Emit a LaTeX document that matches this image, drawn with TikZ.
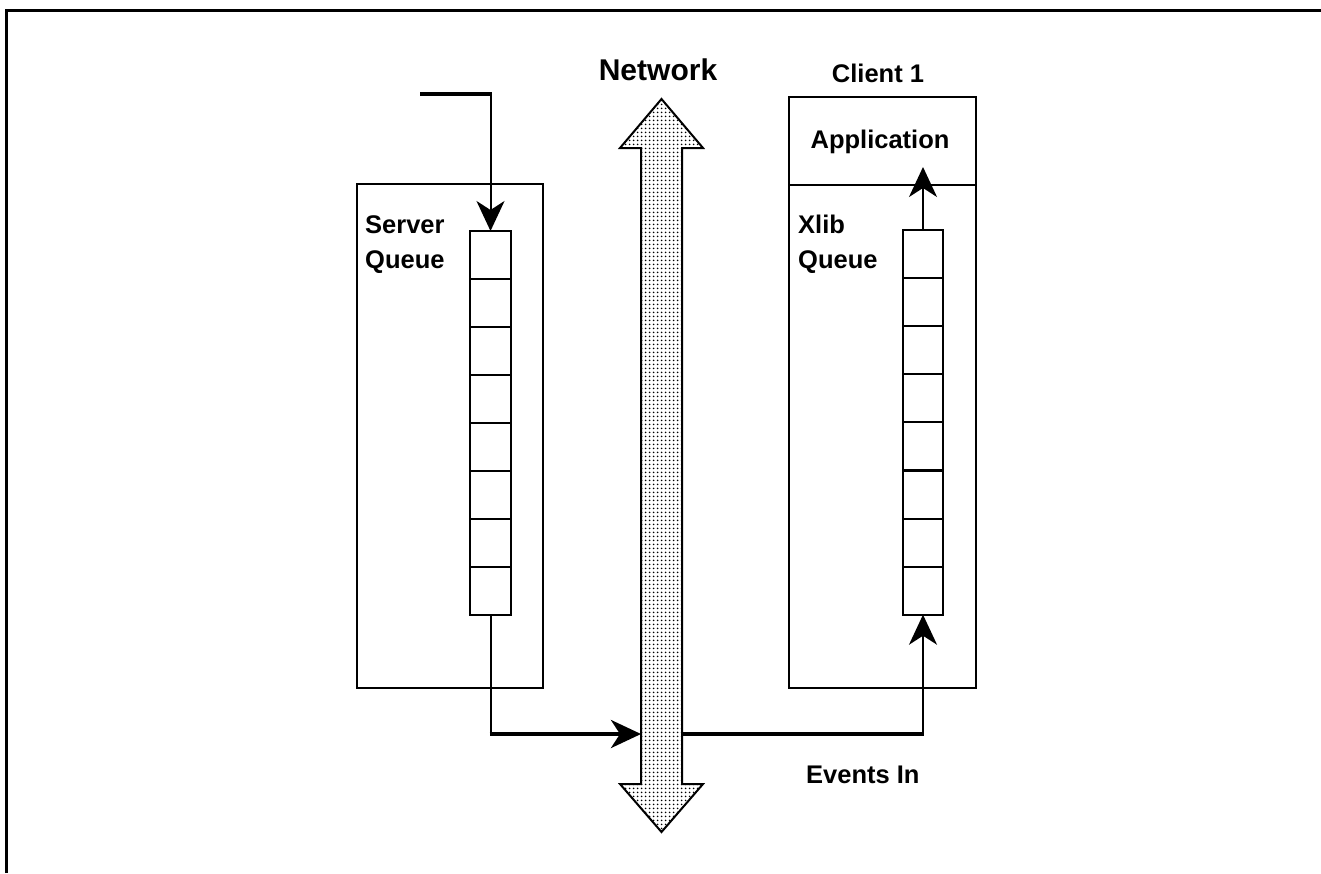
\documentclass[tikz,border=0pt]{standalone}
\usepackage{fontspec}
\setmainfont{Liberation Sans}
\usetikzlibrary{arrows.meta,patterns.meta}
\tikzdeclarepattern{name=netdots, type=uncolored, bounding box={(0pt,0pt) and (4pt,4pt)}, tile size={(4pt,4pt)}, code={\fill (2pt,2pt) circle (1.1pt);}}
\begin{document}
\begin{tikzpicture}[x=1pt,y=-1pt, line join=miter,
 boxline/.style={draw, line width=2pt, inner sep=0pt, outer sep=0pt},
 cell/.style={draw, line width=2pt, minimum width=41pt, minimum height=48pt, inner sep=0pt, outer sep=0pt},
 lbl/.style={font=\bfseries\fontsize{25.5}{30}\selectfont, inner sep=0pt},
 biglbl/.style={font=\bfseries\fontsize{30}{36}\selectfont, inner sep=0pt},
 thinline/.style={line width=2pt},
 thickline/.style={line width=4pt},
 tipend/.style={-{Stealth[length=30pt,width=28pt,inset=9pt]}}
]
\useasboundingbox (0,0) rectangle (1321,873);
% frame
\draw[line width=3pt] (6,873) -- (6,10) -- (1321,10);

% server box and queue
\node[boxline, minimum width=186pt, minimum height=504pt] (server) at (450,436) {};
\foreach \i in {1,...,8}
  \node[cell] (sq\i) at (490.5,{255+48*(\i-1)}) {};
\node[lbl, anchor=base west] (srvlbl) at (365,233) {Server};
\node[lbl, anchor=base west] (srvq) at (365,268) {Queue};

% client box
\node[boxline, minimum width=187pt, minimum height=88pt] (app) at (882.5,141) {};
\node[boxline, minimum width=187pt, minimum height=503pt] (xlib) at (882.5,436.5) {};
\foreach \i in {1,...,8}
  \node[cell, minimum width=40pt] (cq\i) at (923,{254+48.1*(\i-1)}) {};
\node[lbl, anchor=base] (clientlbl) at (878,82) {Client 1};
\node[lbl, anchor=base] (applbl) at (880,148) {Application};
\node[lbl, anchor=base west] (xliblbl) at (798,233) {Xlib};
\node[lbl, anchor=base west] (xlibq) at (798,268) {Queue};

% network double arrow
\node[inner sep=0pt, outer sep=0pt, minimum width=41pt, minimum height=636pt] (net) at (661.5,466) {};
\draw[line width=2pt, pattern=netdots, pattern color=black]
  (641,148) -- (620,148) -- (661.5,99) -- (703,148) -- (682,148) -- (682,784)
  -- (703,784) -- (661.5,832) -- (620,784) -- (641,784) -- cycle;
\node[biglbl, anchor=base] (netlbl) at (658,80) {Network};

% incoming to server queue
\coordinate (in) at (420,94);
\coordinate (inc) at (sq1.north |- in);
\draw[thickline] (in) -- ([xshift=1pt]inc);
\draw[thinline, tipend] ([yshift=-1pt]inc) -- (sq1.north);

% server queue to network
\coordinate (so) at (sq8.south |- 0,734);
\draw[thinline] (sq8.south) -- ([yshift=2pt]so);
\draw[thickline, tipend] ([xshift=-1pt]so) -- (net.west |- so);

% network to client queue
\coordinate (ci) at (cq8.south |- 0,734);
\draw[thickline] (net.east |- ci) -- ([xshift=1pt]ci);
\draw[thinline, tipend] ([yshift=2pt]ci) -- (cq8.south);
\node[lbl, anchor=base west] (evlbl) at (806,783) {Events In};

% client queue to application
\coordinate (apptip) at (923,167);
\draw[thinline, tipend] (cq1.north) -- (apptip);
\end{tikzpicture}
\end{document}
